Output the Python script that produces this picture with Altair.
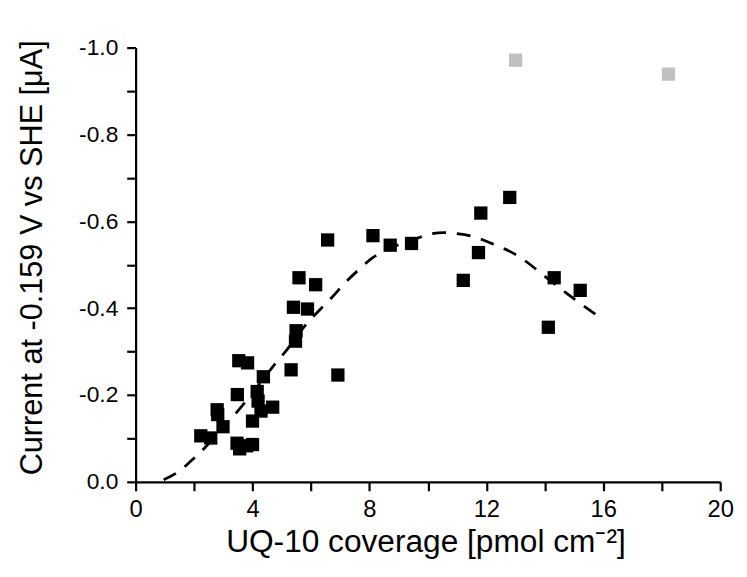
import altair as alt
import pandas as pd

# Measured points (black)
bx = [12.8, 11.81, 11.73, 11.21, 14.32, 15.21, 14.12, 8.12, 8.71, 9.44,
      6.57, 5.59, 6.16, 5.40, 5.88, 5.49, 5.47, 5.32, 6.92, 3.53,
      3.83, 4.37, 3.48, 4.16, 4.19, 4.29, 4.69, 2.79, 2.81, 2.99,
      4.00, 2.23, 2.57, 3.47, 3.56, 3.80, 4.00]
by = [-0.655, -0.619, -0.528, -0.464, -0.470, -0.441, -0.356, -0.567, -0.545, -0.549,
      -0.557, -0.470, -0.454, -0.402, -0.398, -0.348, -0.324, -0.258, -0.246, -0.279,
      -0.274, -0.242, -0.201, -0.208, -0.186, -0.163, -0.172, -0.166, -0.155, -0.127,
      -0.140, -0.106, -0.101, -0.089, -0.076, -0.083, -0.086]

# Excluded points (grey)
gx = [13.0, 18.23]
gy = [-0.971, -0.939]

# Fit curve (dashed)
cx = [0.96, 1.5, 1.89, 2.36, 3.0, 3.63, 4.2, 4.69, 5.16, 5.89, 6.27, 6.76, 7.16,
      7.69, 8.09, 8.96, 9.63, 10.03, 10.56, 10.96, 11.49, 11.89, 12.43, 12.96,
      13.43, 13.89, 14.43, 14.83, 15.29, 15.8]
cy = [-0.005, -0.025, -0.048, -0.078, -0.125, -0.174, -0.222, -0.265, -0.303, -0.367,
      -0.394, -0.428, -0.458, -0.492, -0.515, -0.545, -0.561, -0.570, -0.574, -0.572,
      -0.566, -0.557, -0.542, -0.525, -0.504, -0.479, -0.451, -0.430, -0.407, -0.383]

xticks = [0, 2, 4, 6, 8, 10, 12, 14, 16, 18, 20]
yticks = [0.0, -0.1, -0.2, -0.3, -0.4, -0.5, -0.6, -0.7, -0.8, -0.9, -1.0]

black = pd.DataFrame({"x": bx, "y": by})
grey = pd.DataFrame({"x": gx, "y": gy})
curve = pd.DataFrame({"x": cx, "y": cy})

FONT = "Liberation Sans"

xscale = alt.Scale(domain=[0, 20], nice=False, zero=False)
yscale = alt.Scale(domain=[0, -1.0], nice=False, zero=False)

common = dict(
    grid=False, domain=True, ticks=True,
    domainColor="#000000", domainWidth=2.2, domainOpacity=1,
    tickColor="#000000", tickWidth=2.2, tickOpacity=1, tickSize=9,
    labelFont=FONT, labelColor="#000000",
    titleFont=FONT, titleFontWeight="normal", titleColor="#000000",
    labelFlush=False, labelOverlap=False,
)

xaxis = alt.Axis(
    values=xticks,
    labelExpr="datum.value % 4 == 0 ? format(datum.value, 'd') : ''",
    title="UQ-10 coverage [pmol cm⁻²]",
    labelFontSize=24, labelPadding=7,
    titleFontSize=32,
    titleBaseline="alphabetic", titleX=293, titleY=70, titleAlign="center",
    **common,
)
yaxis = alt.Axis(
    values=yticks,
    labelExpr="(round(datum.value*10) % 2 == 0) ? (datum.value == 0 ? '0.0' : '-' + format(-datum.value, '.1f')) : ''",
    title="Current at -0.159 V vs SHE [μA]",
    labelFontSize=23, labelPadding=9,
    titleFontSize=31,
    titleAngle=-90, titleBaseline="alphabetic", titleX=-95, titleY=212, titleAlign="center",
    **common,
)

line = alt.Chart(curve).mark_line(
    color="black", strokeWidth=2.8, strokeDash=[14, 11], interpolate="monotone"
).encode(
    x=alt.X("x:Q", scale=xscale, axis=xaxis),
    y=alt.Y("y:Q", scale=yscale, axis=yaxis),
)

pts = alt.Chart(black).mark_point(
    shape="square", filled=True, color="black", size=180, opacity=1
).encode(x=alt.X("x:Q"), y=alt.Y("y:Q"))

gpts = alt.Chart(grey).mark_point(
    shape="square", filled=True, color="#c0c0c0", size=180, opacity=1
).encode(x=alt.X("x:Q"), y=alt.Y("y:Q"))

chart = alt.layer(line, pts, gpts).properties(
    width=591, height=439,
    autosize=alt.AutoSizeParams(type="none"),
    padding={"left": 129, "top": 37, "right": 19, "bottom": 80},
).configure(
    background="white",
    view={"stroke": None},
    axis=common,
)

chart.save("out.html", embed_options={"renderer": "svg", "actions": False})
